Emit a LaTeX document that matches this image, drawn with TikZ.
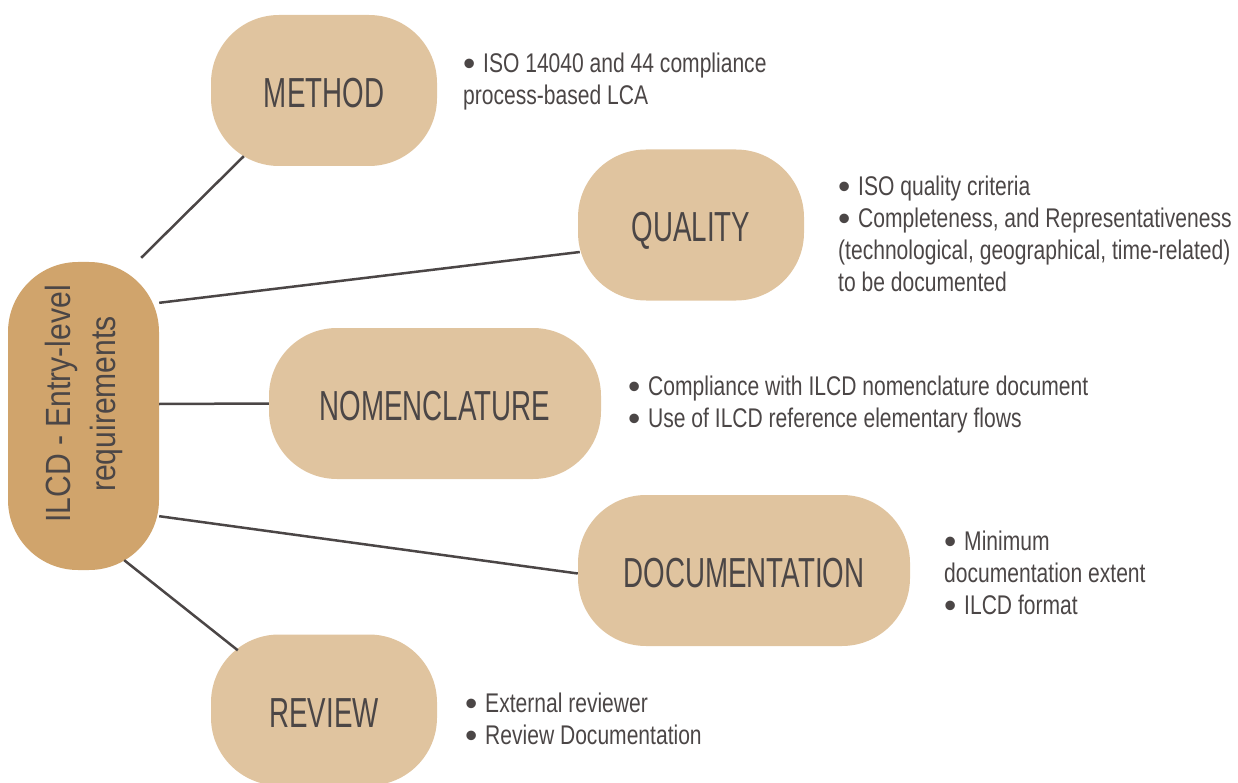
\documentclass[tikz,border=0pt]{standalone}
\usepackage{fontspec}
\setmainfont{Liberation Sans}
\newfontfamily\titlefont[FakeStretch=0.66]{Liberation Sans}
\newfontfamily\bodyfont[FakeStretch=0.78]{Liberation Sans}
\newfontfamily\centfont[FakeStretch=0.86]{Liberation Sans}
\newcommand\bul{\makebox[20pt][l]{\rmfamily\fontsize{35}{32}\selectfont\smash{\raisebox{-3pt}{•}}}}
\usetikzlibrary{calc}
\definecolor{boxlight}{HTML}{E0C49F}
\definecolor{boxdark}{HTML}{D0A46C}
\definecolor{ink}{HTML}{4B4646}
\tikzset{
  topic/.style={fill=boxlight, rounded corners=68pt, inner sep=0pt, minimum height=151pt,
    text height=34pt, text depth=0pt,
    text=ink, font=\titlefont\fontsize{42}{48}\selectfont},
  hub/.style={fill=boxdark, rounded corners=70pt, inner sep=0pt, minimum width=151pt,
    minimum height=308pt, text=ink},
  notes/.style={anchor=north west, inner sep=0pt, align=left, text=ink,
    font=\bodyfont\fontsize{27}{32}\selectfont},
  link/.style={draw=ink, line width=2.5pt}
}
\begin{document}
\begin{tikzpicture}[x=1pt,y=-1pt]
\useasboundingbox (0,0) rectangle (1238,783);
% hub
\node[hub] (c) at (83.5,416) {\rotatebox{90}{\centfont\fontsize{35}{45}\selectfont
  \begin{tabular}{@{\hspace{24pt}}c@{}}ILCD - Entry-level\\requirements\end{tabular}}};
% topics
\node[topic, minimum width=226pt] (m) at (324,90.5) {METHOD};
\node[topic, minimum width=226pt] (q) at (691,225) {QUALITY};
\node[topic, minimum width=332pt] (n) at (435,403.5) {NOMENCLATURE};
\node[topic, minimum width=332pt] (d) at (744,570.5) {DOCUMENTATION};
\node[topic, minimum width=226pt] (r) at (324,710) {REVIEW};
% connectors
\draw[link] ($(c.north east)+(-18,-4)$) -- ($(m.south west)+(33,-10)$);
\draw[link] ($(c.north east)+(0,41)$) -- ($(q.west)+(2,27)$);
\draw[link] ($(c.east)+(0,-12)$) -- (n.west);
\draw[link] ($(c.south east)+(0,-54)$) -- ($(d.west)+(0,3)$);
\draw[link] ($(c.south east)+(-35,-10)$) -- ($(r.north west)+(27,16)$);
% notes
\node[notes] (mt) at (463,53) {\bul ISO 14040 and 44 compliance\\process-based LCA};
\node[notes] (qt) at (838,176) {\bul ISO quality criteria\\\bul Completeness, and Representativeness\\(technological, geographical, time-related)\\to be documented};
\node[notes] (nt) at (628,376) {\bul Compliance with ILCD nomenclature document\\\bul Use of ILCD reference elementary flows};
\node[notes] (dt) at (944,531) {\bul Minimum\\documentation extent\\\bul ILCD format};
\node[notes] (rt) at (465,693) {\bul External reviewer\\\bul Review Documentation};
\end{tikzpicture}
\end{document}
